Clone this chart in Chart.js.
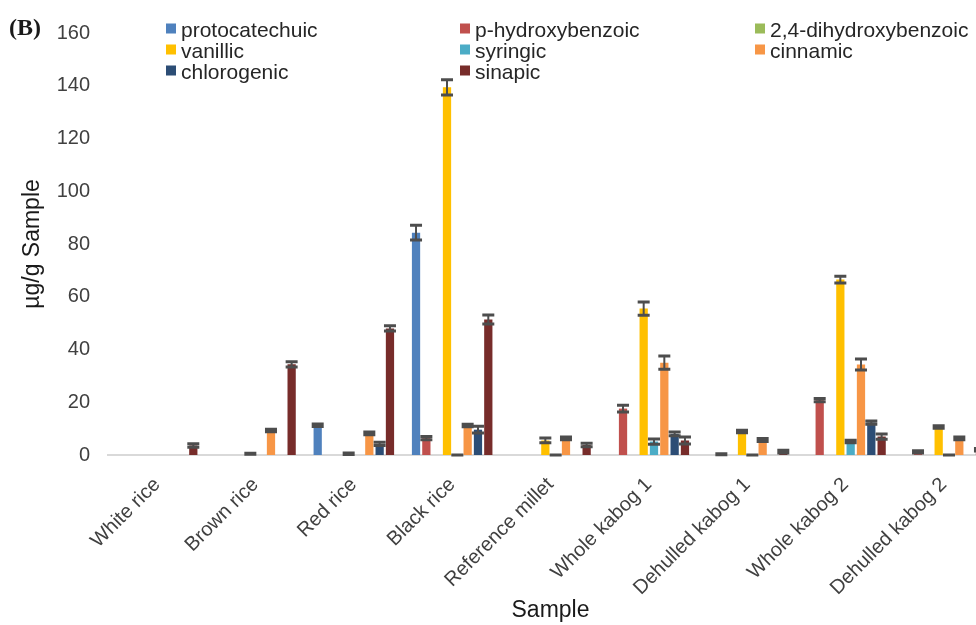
<!DOCTYPE html>
<html>
<head>
<meta charset="utf-8">
<script src="https://cdn.jsdelivr.net/npm/chart.js@4.4.1/dist/chart.umd.min.js"></script>
<style>
  html, body { margin: 0; padding: 0; background: #fff; overflow: hidden; width: 976px; height: 625px; }
  #wrap { position: relative; width: 1010px; height: 625px; }
</style>
</head>
<body>
<div id="wrap"><canvas id="chart" width="1010" height="625"></canvas></div>
<script>
// Samples on the x axis
const samples = ['White rice', 'Brown rice', 'Red rice', 'Black rice', 'Reference millet',
                 'Whole kabog 1', 'Dehulled kabog 1', 'Whole kabog 2', 'Dehulled kabog 2'];

// Phenolic acid contents (µg/g sample), one array per compound
const protocatechuic   = [0, 0, 11.3, 84.3, 0, 0, 0, 0, 0];
const pHydroxybenzoic  = [0, 0, 0, 6.4, 0, 17.6, 0.3, 20.8, 1.2];
const dihydroxybenzoic = [0, 0, 0, 0, 0, 0, 0, 0, 0];
const vanillic         = [0, 0.5, 0.5, 139.4, 5.5, 55.5, 8.9, 66.5, 10.6];
const syringic         = [0, 0, 0, 0, 0, 5.1, 0, 5.1, 0];
const cinnamic         = [0, 9.3, 8.2, 11.2, 6.3, 35.0, 5.7, 34.3, 6.3];
const chlorogenic      = [0, 0, 4.2, 9.6, 0, 8.0, 0, 12.3, 0];
const sinapic          = [3.6, 34.4, 48.0, 51.4, 3.8, 5.5, 1.3, 7.0, 2.0];

// Standard deviations (null = no error bar)
const protocatechuicSd   = [null, null, 0.5, 2.8, null, null, null, null, null];
const pHydroxybenzoicSd  = [null, null, null, 0.6, null, 1.3, 0.2, 0.6, 0.4];
const dihydroxybenzoicSd = [null, null, null, null, null, null, null, null, null];
const vanillicSd         = [null, 0.2, 0.3, 2.9, 0.9, 2.5, 0.5, 1.3, 0.5];
const syringicSd         = [null, null, null, 0, 0, 1.0, 0, 0.5, 0];
const cinnamicSd         = [null, 0.5, 0.5, 0.5, 0.5, 2.5, 0.6, 2.1, 0.5];
const chlorogenicSd      = [null, null, 0.6, 1.3, null, 0.7, null, 0.6, null];
const sinapicSd          = [0.7, 1.0, 1.0, 1.7, 0.7, 1.3, 0.5, 1.0, 0.5];

const compoundNames = ['protocatechuic', 'p-hydroxybenzoic', '2,4-dihydroxybenzoic', 'vanillic',
                       'syringic', 'cinnamic', 'chlorogenic', 'sinapic'];
const compoundValues = [protocatechuic, pHydroxybenzoic, dihydroxybenzoic, vanillic,
                        syringic, cinnamic, chlorogenic, sinapic];
const compoundSd = [protocatechuicSd, pHydroxybenzoicSd, dihydroxybenzoicSd, vanillicSd,
                    syringicSd, cinnamicSd, chlorogenicSd, sinapicSd];
const compoundColors = ['#4F81BD', '#C0504D', '#9BBB59', '#FFC000',
                        '#4BACC6', '#F79646', '#2C4D75', '#772C2A'];

const yTicks = [0, 20, 40, 60, 80, 100, 120, 140, 160];

const FONT = '"Liberation Sans", Arial, sans-serif';

// Error bars with caps, drawn on top of the bars
const errorBars = {
  id: 'errorBars',
  afterDatasetsDraw(chart) {
    const ctx = chart.ctx;
    const y = chart.scales.y;
    ctx.save();
    ctx.strokeStyle = '#4d4d4d';
    chart.data.datasets.forEach((ds, i) => {
      const meta = chart.getDatasetMeta(i);
      ds.sd.forEach((e, j) => {
        if (e === null) return;
        const v = ds.data[j];
        const x = meta.data[j].x;
        const yHi = y.getPixelForValue(v + e);
        const yLo = y.getPixelForValue(Math.max(0, v - e));
        ctx.lineWidth = 2;
        ctx.beginPath();
        ctx.moveTo(x, yHi); ctx.lineTo(x, yLo);
        ctx.stroke();
        ctx.lineWidth = 3;
        ctx.beginPath();
        ctx.moveTo(x - 6, yHi); ctx.lineTo(x + 6, yHi);
        ctx.moveTo(x - 6, yLo); ctx.lineTo(x + 6, yLo);
        ctx.stroke();
      });
    });
    ctx.restore();
  }
};

// Three-column legend overlaid on the top of the plot, plus the panel letter
const legendAndTag = {
  id: 'legendAndTag',
  afterDraw(chart) {
    const ctx = chart.ctx;
    ctx.save();
    ctx.fillStyle = '#1a1a1a';
    ctx.font = 'bold 24px "Liberation Serif", "Times New Roman", serif';
    ctx.textBaseline = 'alphabetic';
    ctx.textAlign = 'left';
    ctx.fillText('(B)', 9, 35);

    const colX = [166, 460, 755];
    const rowY = [36.5, 57.5, 78.5];
    ctx.font = '21px ' + FONT;
    compoundNames.forEach((name, k) => {
      const cx = colX[k % 3];
      const by = rowY[Math.floor(k / 3)];
      ctx.fillStyle = compoundColors[k];
      ctx.fillRect(cx, by - 13, 10, 10);
      ctx.fillStyle = '#262626';
      ctx.fillText(name, cx + 15, by);
    });
    ctx.restore();
  }
};

new Chart(document.getElementById('chart'), {
  type: 'bar',
  data: {
    labels: samples,
    datasets: compoundNames.map((name, k) => ({
      label: name,
      data: compoundValues[k],
      sd: compoundSd[k],
      backgroundColor: compoundColors[k],
      borderWidth: 0,
      categoryPercentage: 0.84,
      barPercentage: 0.8
    }))
  },
  options: {
    responsive: false,
    animation: false,
    devicePixelRatio: 1,
    layout: { padding: { left: 15, right: 17, top: 33, bottom: 0 } },
    plugins: {
      legend: { display: false },
      tooltip: { enabled: false }
    },
    scales: {
      x: {
        grid: { display: false, drawTicks: false },
        border: { display: true, color: '#d9d9d9', width: 2 },
        ticks: {
          autoSkip: false,
          minRotation: 45,
          maxRotation: 45,
          padding: 18,
          color: '#404040',
          font: { family: FONT, size: 20 }
        },
        title: {
          display: true,
          text: 'Sample',
          color: '#1a1a1a',
          font: { family: FONT, size: 23 },
          padding: { top: 4, bottom: 1 }
        },
        afterFit(scale) { scale.height = 170; }
      },
      y: {
        min: 0,
        max: 160,
        grid: { display: false, drawTicks: false },
        border: { display: false },
        afterBuildTicks(scale) { scale.ticks = yTicks.map(v => ({ value: v })); },
        ticks: {
          padding: 18,
          color: '#404040',
          font: { family: FONT, size: 20 }
        },
        title: {
          display: true,
          text: 'µg/g Sample',
          color: '#1a1a1a',
          font: { family: FONT, size: 23 },
          padding: { top: 4, bottom: 4 }
        },
        afterFit(scale) { scale.width = 93; }
      }
    }
  },
  plugins: [errorBars, legendAndTag]
});
</script>
</body>
</html>
